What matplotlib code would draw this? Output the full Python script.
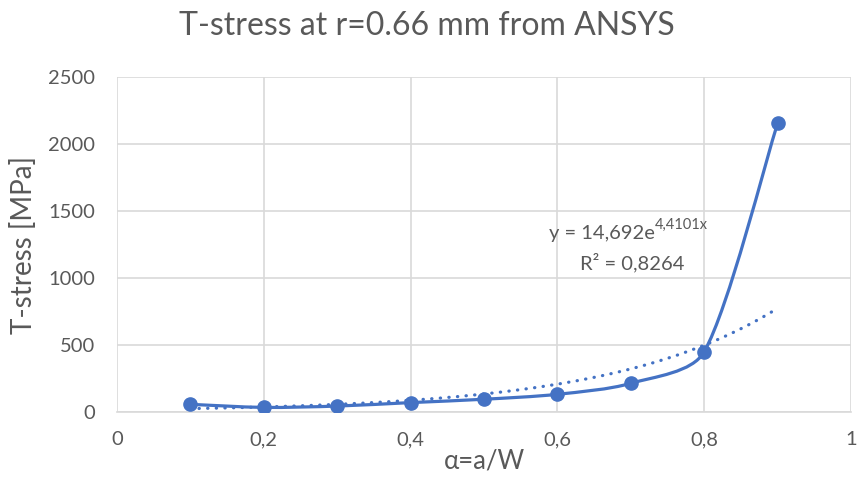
import numpy as np
import matplotlib.pyplot as plt
from matplotlib.path import Path
from matplotlib.patches import PathPatch
from matplotlib.ticker import FuncFormatter

plt.rcParams['font.family'] = ['Lato', 'DejaVu Sans']

# data
alpha = [0.1, 0.2, 0.3, 0.4, 0.5, 0.6, 0.7, 0.8, 0.9]
t_stress = [55, 32, 42, 68, 93, 130, 212, 448, 2157]
eq_text = "y = 14,692e"
eq_exp = "4,4101x"
r2_text = "R² = 0,8264"

BLUE = "#4472C4"
GREY = "#595959"
GRID = "#D9D9D9"

x = np.array(alpha)
y = np.array(t_stress, dtype=float)

fig = plt.figure(figsize=(8.57, 4.96), dpi=100)
ax = fig.add_axes([0.1365, 0.170, 0.8565, 0.674])
ax.set_xlim(0, 1)
ax.set_ylim(0, 2500)

# smoothed line, Excel style: bezier in screen space, handles clamped to segment length
to_px = ax.transData
pts = to_px.transform(np.column_stack([x, y]))
n = len(pts)
verts = [tuple(pts[0])]
codes = [Path.MOVETO]
for i in range(n - 1):
    p0 = pts[max(i - 1, 0)]
    p1, p2 = pts[i], pts[i + 1]
    p3 = pts[min(i + 2, n - 1)]
    seg = np.hypot(*(p2 - p1))
    t1 = (p2 - p0) / 6
    t2 = (p3 - p1) / 6
    lim = 0.3 * seg
    if np.hypot(*t1) > lim:
        t1 = t1 / np.hypot(*t1) * lim
    if np.hypot(*t2) > lim:
        t2 = t2 / np.hypot(*t2) * lim
    verts += [tuple(p1 + t1), tuple(p2 - t2), tuple(p2)]
    codes += [Path.CURVE4] * 3
verts = to_px.inverted().transform(np.array(verts))
ax.add_patch(PathPatch(Path(verts, codes), fill=False, edgecolor=BLUE,
                       lw=2.3, capstyle='round', joinstyle='round', zorder=3))
ax.plot(x, y, 'o', color=BLUE, ms=9.5, zorder=4)

# exponential trendline fitted on the data
b, ln_a = np.polyfit(x, np.log(y), 1)
xt = np.linspace(x[0], x[-1], 200)
ax.plot(xt, np.exp(ln_a) * np.exp(b * xt), color=BLUE, lw=2.3,
        linestyle=(0, (0.1, 2.6)), dash_capstyle='round', zorder=2)

eq = ax.text(0.733, 1330, eq_text, ha='right', va='center', fontsize=14.5, color=GREY)
ax.annotate(eq_exp, xy=(1.0, 0.6), xycoords=eq, ha='left', va='bottom',
            fontsize=10.5, color=GREY)
ax.text(0.702, 1115, r2_text, ha='center', va='center', fontsize=14.5, color=GREY)

ax.set_xticks(np.arange(0, 1.01, 0.2))
ax.set_yticks(np.arange(0, 2501, 500))
ax.xaxis.set_major_formatter(FuncFormatter(lambda v, p: f"{v:g}".replace('.', ',')))
ax.grid(True, color=GRID, lw=1.2)
ax.set_axisbelow(True)
for s in ['top', 'right', 'left']:
    ax.spines[s].set_visible(False)
ax.spines['bottom'].set_color(GRID)
ax.spines['bottom'].set_linewidth(1.2)
ax.tick_params(length=0, labelsize=14.5, labelcolor=GREY)
ax.tick_params(axis='x', pad=14)
ax.tick_params(axis='y', pad=16)

ax.set_xlabel("α=a/W", fontsize=18.5, color=GREY, labelpad=0)
ax.set_ylabel("T-stress [MPa]", fontsize=20, color=GREY, labelpad=8)
fig.text(427 / 857, 1 - 26 / 496, "T-stress at r=0.66 mm from ANSYS",
         fontsize=23, color=GREY, ha='center', va='center')

fig.savefig("out.png", dpi=100)
